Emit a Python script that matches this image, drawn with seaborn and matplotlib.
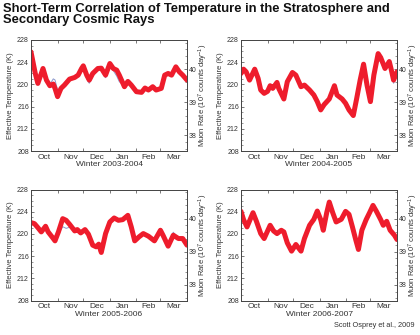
import matplotlib
matplotlib.use("Agg")
import matplotlib.pyplot as plt
import seaborn as sns
import pandas as pd
from matplotlib.ticker import MultipleLocator

# ---------------- data (days since 1 Oct) ----------------
winters = ["Winter 2003-2004", "Winter 2004-2005", "Winter 2005-2006", "Winter 2006-2007"]
months = ["Oct", "Nov", "Dec", "Jan", "Feb", "Mar"]
month_bounds = [31, 61, 92, 123, 151]
month_centers = [15.5, 46, 76.5, 107.5, 137, 166.5]

days1 = [0, 5, 8, 14, 18, 22, 26, 28, 31, 35, 39, 45, 51, 55, 59, 61, 65, 68, 72, 78, 82, 87,
         92, 96, 100, 103, 109, 113, 117, 123, 129, 133, 137, 142, 146, 152, 156, 160, 164,
         169, 173, 177, 182]
muon1 = [40.52, 39.87, 39.57, 40.02, 39.67, 39.50, 39.55, 39.42, 39.17, 39.42, 39.52, 39.70,
         39.75, 39.82, 40.02, 40.10, 39.82, 39.67, 39.87, 40.02, 40.03, 39.82, 40.17, 40.02,
         39.97, 39.82, 39.47, 39.63, 39.52, 39.32, 39.30, 39.43, 39.37, 39.47, 39.37, 39.42,
         39.82, 39.87, 39.82, 40.07, 39.92, 39.82, 39.67]
temp1 = [225.8, 222.0, 220.3, 222.6, 220.8, 220.0, 221.0, 220.8, 219.0, 219.5, 220.0, 220.8,
         221.3, 221.8, 222.6, 223.0, 221.0, 220.2, 221.5, 222.6, 222.5, 221.2, 223.4, 222.5,
         221.5, 220.5, 219.6, 220.2, 219.6, 218.5, 218.6, 219.2, 219.0, 219.3, 219.0, 219.4,
         221.4, 221.8, 221.8, 222.9, 222.2, 221.6, 220.8]

days2 = [0, 3, 6, 10, 16, 20, 23, 27, 31, 34, 37, 42, 44, 50, 54, 60, 64, 70, 74, 80, 85, 89,
         93, 97, 103, 109, 112, 118, 122, 126, 131, 135, 139, 143, 147, 151, 155, 160, 163,
         168, 173, 175, 178, 182]
muon2 = [39.87, 40.00, 39.92, 39.67, 40.00, 39.72, 39.37, 39.27, 39.33, 39.50, 39.42, 39.60,
         39.42, 39.10, 39.62, 39.90, 39.82, 39.47, 39.52, 39.37, 39.22, 39.02, 38.77, 38.93,
         39.10, 39.50, 39.22, 39.10, 38.97, 38.77, 38.60, 39.12, 39.67, 40.15, 39.52, 39.02,
         39.82, 40.47, 40.35, 40.02, 40.23, 40.02, 39.67, 39.92]
temp2 = [221.8, 222.5, 222.1, 220.8, 222.5, 221.0, 219.0, 218.6, 218.8, 219.6, 219.3, 220.2,
         219.3, 217.4, 220.3, 221.9, 221.4, 219.4, 219.6, 218.6, 217.7, 216.5, 215.1, 216.1,
         217.2, 219.5, 218.0, 217.2, 216.4, 215.3, 214.4, 217.3, 220.4, 223.2, 219.8, 216.9,
         221.2, 224.4, 224.0, 222.6, 223.6, 222.4, 220.2, 221.5]

days3 = [0, 4, 8, 12, 17, 20, 26, 28, 32, 37, 41, 45, 51, 54, 58, 63, 67, 72, 76, 79, 82, 87,
         92, 97, 102, 107, 113, 117, 121, 126, 131, 137, 144, 151, 154, 160, 166, 172, 177, 182]
muon3 = [39.88, 39.85, 39.73, 39.60, 39.77, 39.60, 39.40, 39.33, 39.60, 40.00, 39.95, 39.83,
         39.63, 39.67, 39.57, 39.67, 39.53, 39.20, 39.15, 39.23, 38.98, 39.55, 39.90, 40.02,
         39.95, 39.97, 40.10, 39.75, 39.33, 39.45, 39.55, 39.47, 39.33, 39.65, 39.50, 39.17,
         39.50, 39.40, 39.40, 39.20]
temp3 = [221.8, 221.6, 221.0, 220.4, 221.1, 220.4, 219.2, 218.9, 220.0, 221.3, 221.0, 221.2,
         220.4, 220.6, 220.1, 220.6, 219.9, 218.0, 217.7, 218.0, 216.8, 219.6, 221.9, 222.6,
         222.3, 222.4, 223.2, 221.2, 218.8, 219.2, 220.0, 219.4, 218.9, 220.5, 220.2, 218.2,
         220.3, 219.2, 219.1, 218.0]

days4 = [0, 3, 7, 14, 18, 23, 27, 34, 38, 42, 47, 50, 54, 59, 64, 70, 74, 80, 85, 89, 93, 96,
         100, 103, 107, 111, 117, 122, 126, 130, 134, 137, 141, 146, 150, 154, 158, 163, 166,
         170, 174, 179, 182]
muon4 = [40.22, 39.97, 39.75, 40.18, 39.92, 39.55, 39.40, 39.80, 39.63, 39.55, 39.65, 39.60,
         39.27, 39.02, 39.22, 39.02, 39.40, 39.80, 39.98, 40.23, 39.97, 39.65, 40.18, 40.50,
         40.18, 39.90, 39.98, 40.22, 40.13, 39.75, 39.35, 39.07, 39.65, 39.97, 40.18, 40.40,
         40.22, 39.97, 39.80, 39.92, 39.65, 39.50, 39.37]
temp4 = [224.0, 222.6, 221.4, 223.7, 222.2, 220.2, 219.3, 221.5, 220.6, 220.1, 220.6, 220.3,
         218.4, 217.2, 218.1, 217.0, 219.3, 222.0, 222.9, 224.0, 222.5, 220.8, 223.7, 225.5,
         223.7, 222.1, 222.6, 223.9, 223.4, 221.2, 218.9, 217.3, 220.6, 222.5, 223.7, 224.9,
         223.9, 222.5, 221.6, 222.1, 221.0, 220.2, 219.4]

temp_ticks = [208, 212, 216, 220, 224, 228]
muon_ticks = [38, 39, 40]

panels = [(days1, temp1, muon1), (days2, temp2, muon2), (days3, temp3, muon3), (days4, temp4, muon4)]

# ---------------- style ----------------
sns.set_style("ticks")
plt.rcParams['font.family'] = ['Liberation Sans', 'DejaVu Sans']
plt.rcParams['mathtext.fontset'] = 'custom'
plt.rcParams['mathtext.rm'] = 'Liberation Sans'
plt.rcParams['mathtext.it'] = 'Liberation Sans:italic'
plt.rcParams['mathtext.bf'] = 'Liberation Sans:bold'

RED = "#ee1c2c"
BLUE = "#8a98cc"
SPINE = "#444444"
TXT = "#333333"

fig = plt.figure(figsize=(4.2, 3.35), dpi=100)
fig.patch.set_facecolor("white")

W = 156 / 420
H = 111 / 335
rects = [(31 / 420, 1 - 151 / 335, W, H), (241 / 420, 1 - 151 / 335, W, H),
         (31 / 420, 1 - 300.5 / 335, W, H), (241 / 420, 1 - 300.5 / 335, W, H)]

for (days, temp, muon), rect, winter in zip(panels, rects, winters):
    ax = fig.add_axes(rect)
    ax2 = ax.twinx()
    sns.lineplot(x=days, y=temp, ax=ax, color=BLUE, lw=0.7)
    sns.lineplot(x=days, y=muon, ax=ax2, color=RED, lw=3.6, solid_joinstyle="round")

    ax.set_xlim(0, 182)
    ax.set_ylim(208, 228)
    ax2.set_ylim(37.53, 40.88)

    ax.set_yticks(temp_ticks)
    ax.set_yticklabels([str(t) for t in temp_ticks])
    ax.yaxis.set_minor_locator(MultipleLocator(1))
    ax2.set_yticks(muon_ticks)
    ax2.set_yticklabels([str(t) for t in muon_ticks])
    ax2.yaxis.set_minor_locator(MultipleLocator(0.2))

    ax.set_xticks(month_bounds)
    ax.set_xticklabels([])
    ax.set_xticks(month_centers, minor=True)
    ax.set_xticklabels(months, minor=True)

    ax.tick_params(axis='x', which='major', direction='in', top=True, bottom=True,
                   length=2.5, width=0.5, color=SPINE)
    ax.tick_params(axis='x', which='minor', length=0, pad=2, labelsize=6, labelcolor=TXT)
    ax.tick_params(axis='y', which='major', direction='in', length=2.5, width=0.5,
                   pad=1.5, labelsize=5, labelcolor=TXT, color=SPINE)
    ax.tick_params(axis='y', which='minor', direction='in', length=1.2, width=0.4, color=SPINE)
    ax2.tick_params(axis='y', which='major', direction='in', length=2.5, width=0.5,
                    pad=1.0, labelsize=5, labelcolor=TXT, color=SPINE)
    ax2.tick_params(axis='y', which='minor', direction='in', length=1.2, width=0.4, color=SPINE)

    for a in (ax, ax2):
        for s in a.spines.values():
            s.set_visible(True)
            s.set_color(SPINE)
            s.set_linewidth(0.6)

    ax.set_ylabel("Effective Temperature (K)", fontsize=5.5, color=TXT, labelpad=2)
    ax2.set_ylabel(r"Muon Rate (10$^{7}$ counts day$^{-1}$)", fontsize=5.5, color=TXT,
                   labelpad=0.5, rotation=90)
    ax.set_xlabel(winter, fontsize=6, color=TXT, labelpad=0.5)

fig.text(0.008, 0.992, "Short-Term Correlation of Temperature in the Stratosphere and\nSecondary Cosmic Rays",
         fontsize=9.4, fontweight='bold', color="#111111", va='top', ha='left', linespacing=0.95)
fig.text(0.988, 0.018, "Scott Osprey et al., 2009", fontsize=5.3, color=TXT, ha='right', va='bottom')

fig.savefig("out.png", dpi=100, facecolor="white")
